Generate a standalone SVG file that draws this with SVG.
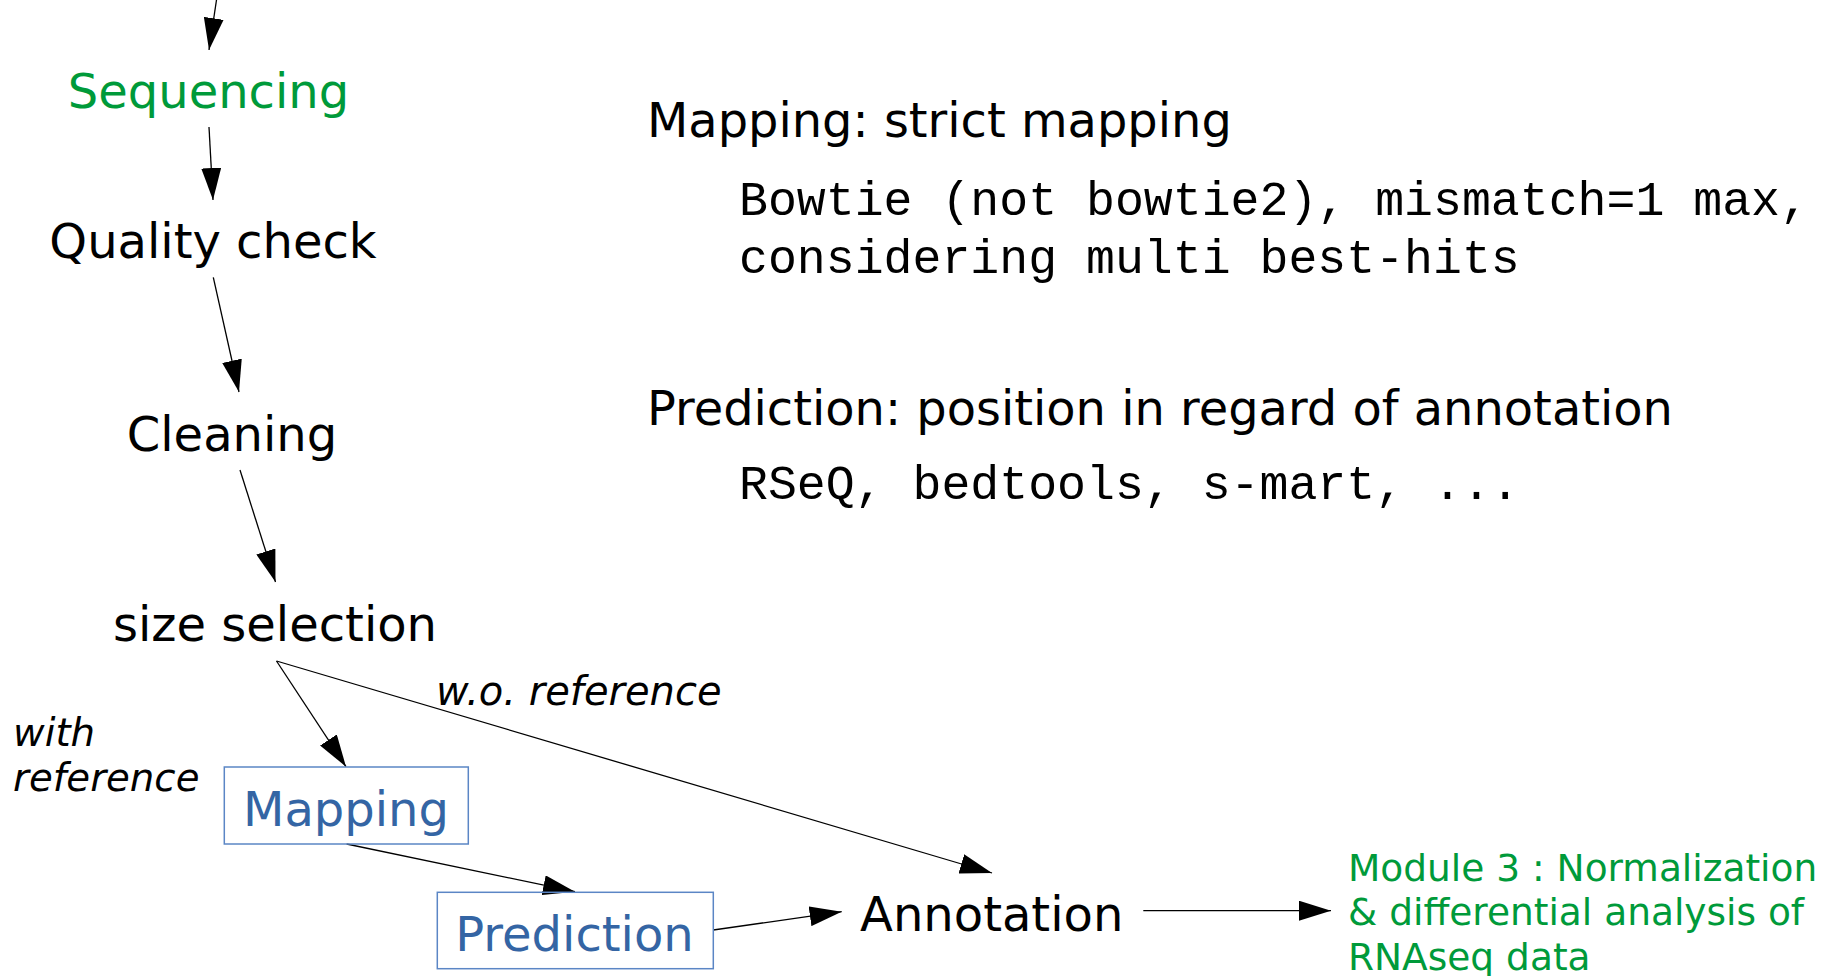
<svg xmlns="http://www.w3.org/2000/svg" width="1831" height="976" viewBox="0 0 1831 976">
  <defs>
    <marker id="arrow" markerUnits="userSpaceOnUse" markerWidth="32" markerHeight="20" refX="32" refY="10" orient="auto">
      <path d="M0,0 L32,10 L0,20 z" fill="#000"/>
    </marker>
    <style>
      .sans { font-family: "DejaVu Sans", Verdana, sans-serif; }
      .step { font-size: 48px; fill: #000; text-anchor: middle; }
      .green { fill: #009a3a; }
      .tool { font-size: 48px; fill: #3465a4; text-anchor: middle; }
      .box { fill: none; stroke: #5b86c5; stroke-width: 1.5; }
      .edge-label { font-size: 38.7px; font-style: italic; fill: #000; }
      .head { font-size: 47.9px; fill: #000; }
      .mono { font-family: "Liberation Mono", "Courier New", monospace; font-size: 48.2px; fill: #000; }
      .module { font-size: 37.5px; }
      .link { stroke: #000; stroke-width: 1.3; fill: none; marker-end: url(#arrow); }
    </style>
  </defs>
  <rect width="1831" height="976" fill="#fff"/>

  <!-- connectors -->
  <g id="connectors">
    <line class="link" x1="216.5" y1="0" x2="209" y2="50"/>
    <line class="link" x1="209" y1="127" x2="213" y2="200"/>
    <line class="link" x1="213.3" y1="277.3" x2="239" y2="392"/>
    <line class="link" x1="240" y1="470" x2="275.5" y2="582"/>
    <line class="link" x1="276.5" y1="661" x2="346" y2="766.7"/>
    <line class="link" x1="276.5" y1="661" x2="992" y2="873"/>
    <line class="link" x1="346.6" y1="844" x2="575" y2="891.7"/>
    <line class="link" x1="713.3" y1="930" x2="841.7" y2="911.7"/>
    <line class="link" x1="1143.3" y1="910.7" x2="1331" y2="910.7"/>
  </g>

  <!-- pipeline steps -->
  <g id="sequencing"><text class="sans step green" x="208.5" y="108">Sequencing</text></g>
  <g id="quality-check"><text class="sans step" x="213" y="258">Quality check</text></g>
  <g id="cleaning"><text class="sans step" x="232" y="451">Cleaning</text></g>
  <g id="size-selection"><text class="sans step" x="275" y="641">size selection</text></g>

  <g id="mapping">
    <rect class="box" x="224.3" y="767" width="244" height="77"/>
    <text class="sans tool" x="346" y="826">Mapping</text>
  </g>
  <g id="prediction">
    <rect class="box" x="437.3" y="892.3" width="276" height="76.4"/>
    <text class="sans tool" x="574.5" y="950.7">Prediction</text>
  </g>
  <g id="annotation"><text class="sans step" x="991.7" y="930.7">Annotation</text></g>

  <g id="module3">
    <text class="sans module green">
      <tspan x="1348" y="880.5">Module 3 : Normalization</tspan>
      <tspan x="1348" y="925">&amp; differential analysis of</tspan>
      <tspan x="1348" y="969.5">RNAseq data</tspan>
    </text>
  </g>

  <!-- edge labels -->
  <g id="label-with-reference">
    <text class="sans edge-label">
      <tspan x="13" y="746">with</tspan>
      <tspan x="13" y="791">reference</tspan>
    </text>
  </g>
  <g id="label-without-reference">
    <text class="sans edge-label" x="436" y="705" style="font-size:40px">w.o. reference</text>
  </g>

  <!-- notes -->
  <g id="note-mapping">
    <text class="sans head" x="647" y="137">Mapping: strict mapping</text>
    <text class="mono" x="739" y="215">Bowtie (not bowtie2), mismatch=1 max,</text>
    <text class="mono" x="739" y="273">considering multi best-hits</text>
  </g>
  <g id="note-prediction">
    <text class="sans head" x="647" y="425">Prediction: position in regard of annotation</text>
    <text class="mono" x="739" y="499">RSeQ, bedtools, s-mart, ...</text>
  </g>
</svg>
